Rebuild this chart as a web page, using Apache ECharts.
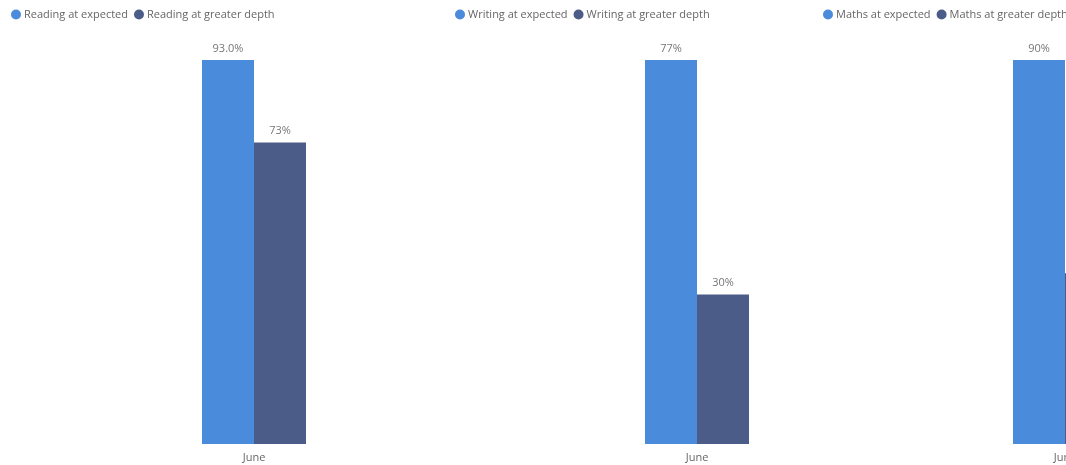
<!DOCTYPE html>
<html>
<head>
<meta charset="utf-8">
<style>
  html, body { margin: 0; padding: 0; background: #fff; }
  #chart { width: 1066px; height: 465px; }
</style>
<script src="https://cdn.jsdelivr.net/npm/echarts@6/dist/echarts.min.js"></script>
</head>
<body>
<div id="chart"></div>
<script>
// data
var months = ['June'];
var subjects = ['Reading', 'Writing', 'Maths'];
var atExpected = [93.0, 77, 90];
var atGreaterDepth = [73, 30, 40];
// decimals shown on the value labels (Reading expected shows one decimal)
var expectedDecimals = [1, 0, 0];
var depthDecimals = [0, 0, 0];

var colExpected = '#4A8BDC';
var colDepth = '#4B5C88';
var fontFam = '"Open Sans", "Noto Sans", sans-serif';

// panel placement (left edge of legend, left edge of plot area)
var legendLeft = [6, 450, 818];
var gridLeft = [65, 508, 876];
var gridWidth = 378;

var chart = echarts.init(document.getElementById('chart'));

var grids = [], xAxes = [], yAxes = [], legends = [], series = [];

var makeLabel = function (d) {
    return {
        show: true, position: 'top', distance: 6,
        color: '#777', fontSize: 11, fontFamily: fontFam,
        formatter: function (p) { return p.value.toFixed(d) + '%'; }
    };
};

subjects.forEach(function (subj, i) {
    grids.push({
        left: gridLeft[i], right: 1066 - gridLeft[i] - gridWidth,
        top: 60, bottom: 21, outerBoundsMode: 'none'
    });
    xAxes.push({
        type: 'category', gridIndex: i, data: months,
        axisLine: {show: false}, axisTick: {show: false},
        axisLabel: {color: '#666', fontSize: 11, fontFamily: fontFam, margin: 8}
    });
    yAxes.push({
        type: 'value', gridIndex: i, min: 0,
        max: Math.max(atExpected[i], atGreaterDepth[i]),
        show: false, splitLine: {show: false}
    });
    var nameExp = subj + ' at expected';
    var nameDep = subj + ' at greater depth';
    legends.push({
        left: legendLeft[i], top: 4, width: 320,
        icon: 'circle', itemWidth: 10, itemHeight: 10, itemGap: 6,
        textStyle: {color: '#666', fontSize: 11, fontFamily: fontFam, padding: [0, 0, 0, -2]},
        data: [nameExp, nameDep]
    });
    series.push({
        name: nameExp, type: 'bar', xAxisIndex: i, yAxisIndex: i,
        barWidth: 52, barGap: '0%',
        itemStyle: {color: colExpected},
        label: makeLabel(expectedDecimals[i]),
        data: [atExpected[i]]
    });
    series.push({
        name: nameDep, type: 'bar', xAxisIndex: i, yAxisIndex: i,
        barWidth: 52, barGap: '0%',
        itemStyle: {color: colDepth},
        label: makeLabel(depthDecimals[i]),
        data: [atGreaterDepth[i]]
    });
});

chart.setOption({
    animation: false,
    legend: legends,
    grid: grids,
    xAxis: xAxes,
    yAxis: yAxes,
    series: series
});
</script>
</body>
</html>
